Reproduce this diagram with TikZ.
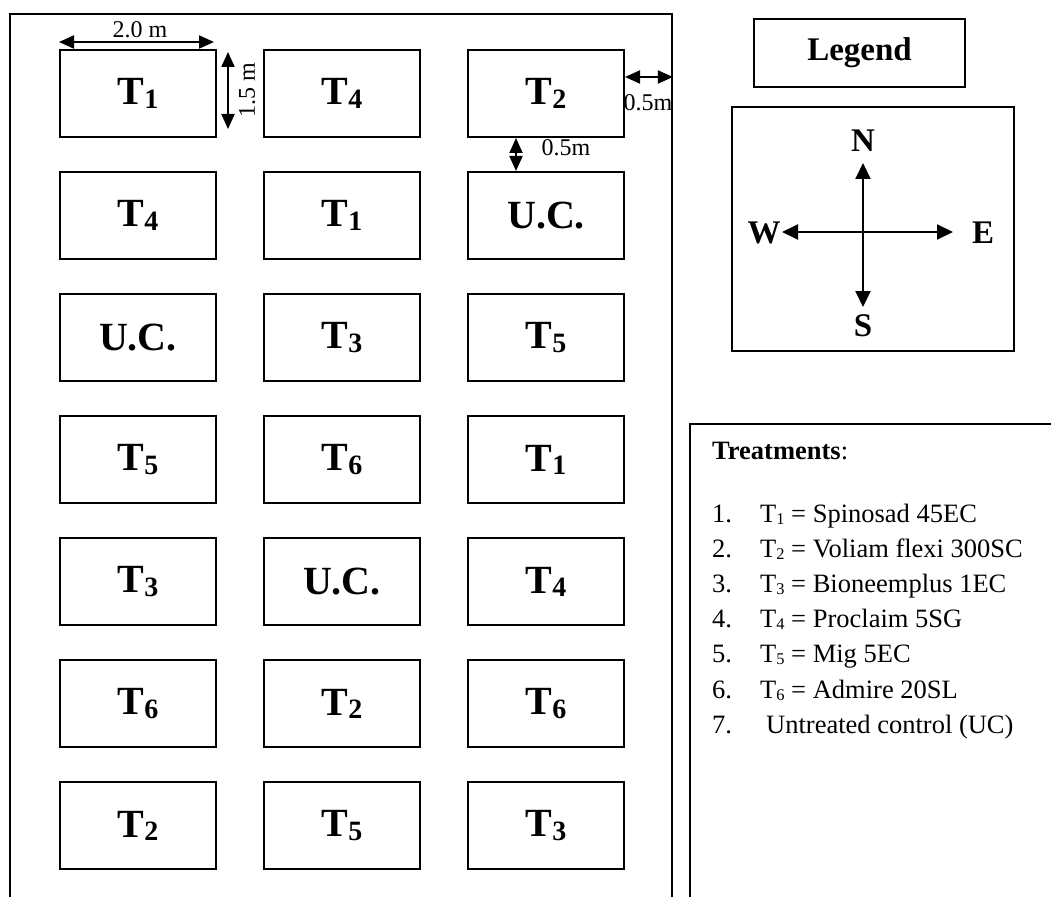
\documentclass[tikz,border=0pt]{standalone}
\usepackage{fontspec}
\usepackage{graphicx}
\setmainfont{Liberation Serif}
\usetikzlibrary{arrows.meta}
\newcommand{\Tsb}[1]{T\raisebox{-0.08em}{\scalebox{0.7}{#1}}}
\newcommand{\Tlst}[1]{T\raisebox{-0.08em}{\scalebox{0.62}{#1}}}
\newcommand{\plab}[1]{\ifnum#1=0 U.C.\else\Tsb{#1}\fi}
\tikzset{
  plot/.style={draw, line width=2pt, minimum width=156pt, minimum height=87pt, inner sep=0pt,
    font=\fontsize{40}{40}\selectfont\bfseries},
  frame/.style={draw, line width=1.8pt, inner sep=0pt},
  thinframe/.style={draw, line width=1.4pt, inner sep=0pt},
  dim/.style={font=\fontsize{24}{24}\selectfont, inner sep=0pt},
  big/.style={font=\fontsize{33}{33}\selectfont\bfseries, inner sep=0pt},
  lst/.style={font=\fontsize{26.5}{26.5}\selectfont, inner sep=0pt, anchor=base west},
  arr/.style={line width=2pt, {Triangle[length=15pt,width=13pt]}-{Triangle[length=15pt,width=13pt]}},
  carr/.style={line width=2pt, {Triangle[length=16pt,width=15pt]}-{Triangle[length=16pt,width=15pt]}}
}
\begin{document}
\begin{tikzpicture}[x=1pt,y=-1pt]
\useasboundingbox (0,0) rectangle (1051,896);
\clip (0,0) rectangle (1051,896);
% field
\node[frame, minimum width=662pt, minimum height=896pt] (field) at (341,462) {};
% plots
\foreach \r/\a/\b/\c in {1/1/4/2, 2/4/1/0, 3/0/3/5, 4/5/6/1, 5/3/0/4, 6/6/2/6, 7/2/5/3}{
  \node[plot] (p\r1) at (138, {93.5+122*(\r-1)}) {\plab{\a}};
  \node[plot] (p\r2) at (342, {93.5+122*(\r-1)}) {\plab{\b}};
  \node[plot] (p\r3) at (546, {93.5+122*(\r-1)}) {\plab{\c}};
}
% dimensions
\draw[arr] ([yshift=7pt]p11.north west) -- ([xshift=-3pt,yshift=7pt]p11.north east);
\node[dim] (d20) at (140,30) {2.0 m};
\draw[arr] ([xshift=11pt,yshift=-3pt]p11.north east) -- ([xshift=11pt,yshift=9pt]p11.south east);
\node[dim, rotate=90] (d15) at (247,90) {1.5 m};
\draw[arr] ([yshift=16.5pt]p13.east) -- ([yshift=16.5pt]p13.east -| field.east);
\node[dim] (d05a) at (648,103) {0.5m};
\draw[arr] ([xshift=49pt]p13.south west) -- ([xshift=49pt]p23.north west);
\node[dim] (d05b) at (566,148) {0.5m};
% legend
\node[thinframe, minimum width=211pt, minimum height=68pt, font=\fontsize{33}{33}\selectfont\bfseries] (legend) at (859.5,53) {Legend};
\node[thinframe, minimum width=282pt, minimum height=244pt] (compass) at (873,229) {};
\coordinate (nt) at (863,163);
\coordinate (st) at (863,307);
\coordinate (wt) at (782,232);
\coordinate (et) at (953,232);
\draw[carr] (st) -- (nt);
\draw[carr] (wt) -- (et);
\node[big] (N) at (863,141) {N};
\node[big] (S) at (863,326) {S};
\node[big] (W) at (764,233) {W};
\node[big] (E) at (983,233) {E};
% treatments
\node[thinframe, minimum width=380pt, minimum height=496pt] (treat) at (880,672) {};
\node[lst] (th) at (712,459) {\textbf{Treatments}:};
\node[lst] (n1) at (712,522) {1.};
\node[lst] (n2) at (712,557.2) {2.};
\node[lst] (n3) at (712,592.4) {3.};
\node[lst] (n4) at (712,627.6) {4.};
\node[lst] (n5) at (712,662.8) {5.};
\node[lst] (n6) at (712,698) {6.};
\node[lst] (n7) at (712,733.2) {7.};
\node[lst] (t1) at (760,522) {\Tlst{1} = Spinosad 45EC};
\node[lst] (t2) at (760,557.2) {\Tlst{2} = Voliam flexi 300SC};
\node[lst] (t3) at (760,592.4) {\Tlst{3} = Bioneemplus 1EC};
\node[lst] (t4) at (760,627.6) {\Tlst{4} = Proclaim 5SG};
\node[lst] (t5) at (760,662.8) {\Tlst{5} = Mig 5EC};
\node[lst] (t6) at (760,698) {\Tlst{6} = Admire 20SL};
\node[lst] (t7) at (766,733.2) {Untreated control (UC)};
\end{tikzpicture}
\end{document}
